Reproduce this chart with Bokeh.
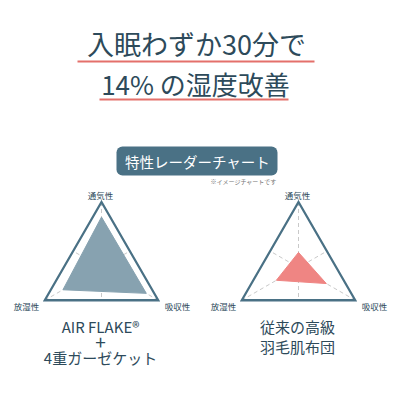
import numpy as np
from bokeh.plotting import figure
from bokeh.models import Range1d
from bokeh.core.properties import value
from bokeh.embed import file_html
from bokeh.resources import INLINE

# ---- data ----
title_lines = ["入眠わずか30分で", "14% の湿度改善"]
badge_text = "特性レーダーチャート"
note_text = "※イメージチャートです"
axes_labels = ["通気性", "吸収性", "放湿性"]
series_names = [["AIR FLAKE®", "+", "4重ガーゼケット"], ["従来の高級", "羽毛肌布団"]]
air_flake = [0.77, 0.79, 0.68]
down_futon = [0.23, 0.49, 0.39]

FONT = value("Noto Sans CJK JP")
DARK = "#2d4a5a"
TEAL = "#4a7185"
RED = "#e4706b"

p = figure(width=392, height=392, output_backend="svg", toolbar_location=None,
           x_range=Range1d(0, 392), y_range=Range1d(392, 0), min_border=0)
p.axis.visible = False
p.grid.visible = False
p.outline_line_color = None
p.background_fill_color = "white"

# title
p.text(x=[196], y=[43], text=[title_lines[0]], text_font=FONT, text_font_size="27px",
       text_color=DARK, text_align="center", text_baseline="middle")
p.text(x=[195], y=[83], text=[title_lines[1]], text_font=FONT, text_font_size="26px",
       text_color=DARK, text_align="center", text_baseline="middle")
p.segment(x0=[77, 99], y0=[61, 99], x1=[314, 288], y1=[61, 99], line_color=RED, line_width=2)

# badge
p.quad(left=[116], right=[277], top=[146], bottom=[175], fill_color=TEAL, line_color=None,
       border_radius=6)
p.text(x=[197], y=[160.5], text=[badge_text], text_font=FONT, text_font_size="14.5px",
       text_color="white", text_align="center", text_baseline="middle")
p.text(x=[276], y=[181], text=[note_text], text_font=FONT, text_font_size="6px",
       text_color="#777777", text_align="right", text_baseline="middle")

# radar charts
angles = np.deg2rad([90, -30, 210])
centers = [(101, 267), (298, 267)]
R = 65.5
fills = ["#87a2b0", "#ef8583"]
datasets = [air_flake, down_futon]

for (cx, cy), vals, fc, names in zip(centers, datasets, fills, series_names):
    vx = cx + R * np.cos(angles)
    vy = cy - R * np.sin(angles)
    # medians (dashed)
    mx = [(vx[1] + vx[2]) / 2, (vx[0] + vx[2]) / 2, (vx[0] + vx[1]) / 2]
    my = [(vy[1] + vy[2]) / 2, (vy[0] + vy[2]) / 2, (vy[0] + vy[1]) / 2]
    p.segment(x0=list(vx), y0=list(vy), x1=mx, y1=my, line_color="#c9c9c9",
              line_width=1, line_dash="4 3")
    # data polygon
    v = np.array(vals)
    px = cx + R * v * np.cos(angles)
    py = cy - R * v * np.sin(angles)
    p.patch(x=list(px), y=list(py), fill_color=fc, line_color=fc, line_width=1)
    # outline
    p.patch(x=list(vx), y=list(vy), fill_color=None, line_color=TEAL, line_width=2.3,
            line_join="miter")
    # axis labels
    lx = [cx - 1, cx + 76, cx - 75]
    ly = [194, 305.5, 305.5]
    p.text(x=lx, y=ly, text=axes_labels, text_font=FONT, text_font_size="8.5px",
           text_color=DARK, text_align="center", text_baseline="middle")
    # series name
    if len(names) == 3:
        ny = [326, 342.5, 357]
        sizes = ["15px", "19px", "15px"]
    else:
        ny = [326, 346]
        sizes = ["15px", "15px"]
    p.text(x=[cx - 1] * len(names), y=ny, text=names, text_font=FONT, text_font_size=sizes,
           text_color=DARK, text_align="center", text_baseline="middle")

open("out.html", "w").write(file_html(p, INLINE))
